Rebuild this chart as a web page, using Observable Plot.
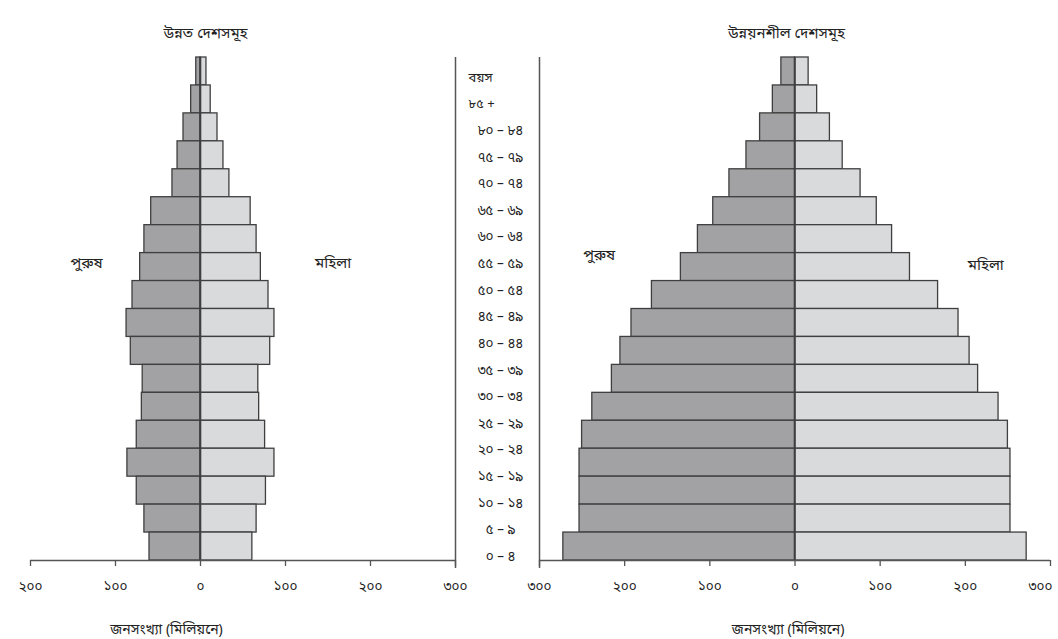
<!DOCTYPE html>
<html>
<head>
<meta charset="utf-8">
<script src="https://cdn.jsdelivr.net/npm/d3@7"></script>
<script src="https://cdn.jsdelivr.net/npm/@observablehq/plot@0.6"></script>
<style>
  html, body { margin: 0; padding: 0; background: #fff; }
  #wrap { position: relative; width: 1058px; height: 639px; overflow: hidden;
          font-family: "Noto Sans Bengali", "Noto Sans", "DejaVu Sans", sans-serif; }
  #wrap > svg { position: absolute; top: 0; }
</style>
</head>
<body>
<div id="wrap"></div>
<script>
// ---- data ----
const ageHeader = "বয়স";
const ages = ["৮৫ +", "৮০ – ৮৪", "৭৫ – ৭৯", "৭০ – ৭৪", "৬৫ – ৬৯", "৬০ – ৬৪", "৫৫ – ৫৯", "৫০ – ৫৪",
  "৪৫ – ৪৯", "৪০ – ৪৪", "৩৫ – ৩৯", "৩০ – ৩৪", "২৫ – ২৯", "২০ – ২৪", "১৫ – ১৯", "১০ – ১৪", "৫ – ৯", "০ – ৪"];
const developedMale   = [5, 11, 20, 27, 33, 58, 66, 71, 80, 87, 82, 68, 69, 75, 86, 75, 66, 60];
const developedFemale = [7, 12, 20, 27, 34, 59, 66, 71, 80, 87, 82, 68, 69, 76, 87, 77, 66, 61];
const developingMale   = [16, 26, 41, 57, 77, 96, 114, 134, 168, 192, 205, 215, 238, 250, 253, 253, 253, 272];
const developingFemale = [16, 26, 41, 56, 77, 96, 114, 135, 168, 192, 205, 215, 239, 250, 253, 253, 253, 272];
const leftTicks = [-200, -100, 0, 100, 200, 300];
const rightTicks = [-300, -200, -100, 0, 100, 200, 300];
const titleLeft = "উন্নত দেশসমূহ";
const titleRight = "উন্নয়নশীল দেশসমূহ";
const axisTitle = "জনসংখ্যা (মিলিয়নে)";
const maleLabel = "পুরুষ";
const femaleLabel = "মহিলা";

const bnDigits = "০১২৩৪৫৬৭৮৯";
const toBn = n => String(Math.abs(n)).replace(/[0-9]/g, d => bnDigits[+d]);

const FONT = '"Noto Sans Bengali", "Noto Sans", "DejaVu Sans", sans-serif';
const MALE_FILL = "#a2a2a5";
const FEMALE_FILL = "#d9dadc";
const STROKE = "#3f3f3f";
const TEXT = "#222";

function rows(male, female) {
  return ages.flatMap((a, i) => [
    {age: a, sex: "m", x1: -male[i], x2: 0},
    {age: a, sex: "f", x1: 0, x2: female[i]}
  ]);
}

function panel({male, female, domain, ticks, width, marginLeft, marginRight, edge, lastDx,
                title, titleX, axisX, maleX, maleDy, femaleX, femaleDy}) {
  const data = rows(male, female);
  const last = ticks[ticks.length - 1];
  return Plot.plot({
    width, height: 639,
    marginLeft, marginRight, marginTop: 57, marginBottom: 79,
    style: {fontFamily: FONT, fontSize: "12px", color: TEXT, background: "transparent", overflow: "visible"},
    x: {domain, label: null, axis: null},
    y: {domain: ages, type: "band", padding: 0, round: false, axis: null},
    marks: [
      Plot.barX(data.filter(d => d.sex === "m"), {x1: "x1", x2: "x2", y: "age", fill: MALE_FILL, stroke: STROKE, strokeWidth: 1.3}),
      Plot.barX(data.filter(d => d.sex === "f"), {x1: "x1", x2: "x2", y: "age", fill: FEMALE_FILL, stroke: STROKE, strokeWidth: 1.3}),
      Plot.ruleX([0], {stroke: STROKE, strokeWidth: 1.6}),
      Plot.ruleX([edge], {stroke: "#555", strokeWidth: 1.5, insetBottom: -8}),
      Plot.ruleY([ages[ages.length - 1]], {x1: domain[0], x2: domain[1], dy: 14, stroke: "#555", strokeWidth: 1.5}),
      Plot.axisX({ticks, tickSize: 6, tickFormat: () => "", stroke: "#555", strokeWidth: 1.3}),
      Plot.text(ticks.filter(t => t !== last), {x: d => d, text: toBn, frameAnchor: "bottom", dy: 30, fontSize: 13.5, fill: TEXT}),
      Plot.text([last], {x: d => d, text: toBn, frameAnchor: "bottom", dy: 30, dx: lastDx, fontSize: 13.5, fill: TEXT}),
      Plot.text([title], {x: () => titleX, frameAnchor: "top", dy: -30, fontSize: 15, fill: TEXT}),
      Plot.text([axisTitle], {x: () => axisX, frameAnchor: "bottom", dy: 73, fontSize: 14, fill: TEXT}),
      Plot.text([maleLabel], {x: () => maleX, frameAnchor: "top", dy: maleDy, fontSize: 15, fill: TEXT}),
      Plot.text([femaleLabel], {x: () => femaleX, frameAnchor: "top", dy: femaleDy, fontSize: 15, fill: TEXT})
    ]
  });
}

const left = panel({
  male: developedMale, female: developedFemale, domain: [-200, 300], ticks: leftTicks,
  width: 470, marginLeft: 30, marginRight: 15, edge: 300, lastDx: 0,
  title: titleLeft, titleX: 6, axisX: -40,
  maleX: -134, maleDy: 200, femaleX: 156, femaleDy: 200
});
left.style.left = "0px";

const right = panel({
  male: developingMale, female: developingFemale, domain: [-300, 300], ticks: rightTicks,
  width: 598, marginLeft: 79, marginRight: 8, edge: -300, lastDx: -10,
  title: titleRight, titleX: -10, axisX: -8,
  maleX: -230, maleDy: 192, femaleX: 224, femaleDy: 202
});
right.style.left = "460px";

const center = Plot.plot({
  width: 90, height: 639,
  marginLeft: 0, marginRight: 0, marginTop: 77, marginBottom: 639 - 556,
  style: {fontFamily: FONT, fontSize: "13px", background: "transparent", overflow: "visible"},
  y: {domain: [ageHeader, ...ages], type: "point", padding: 0, round: false, axis: null},
  marks: [
    Plot.text([ageHeader, ages[0]], {y: d => d, frameAnchor: "left", dx: 13, textAnchor: "start", fill: TEXT, fontSize: 13}),
    Plot.text(ages.slice(1), {y: d => d, frameAnchor: "left", dx: 45, textAnchor: "middle", fill: TEXT, fontSize: 13.5})
  ]
});
center.style.left = "455px";

const wrap = document.getElementById("wrap");
wrap.append(left, right, center);
</script>
</body>
</html>
